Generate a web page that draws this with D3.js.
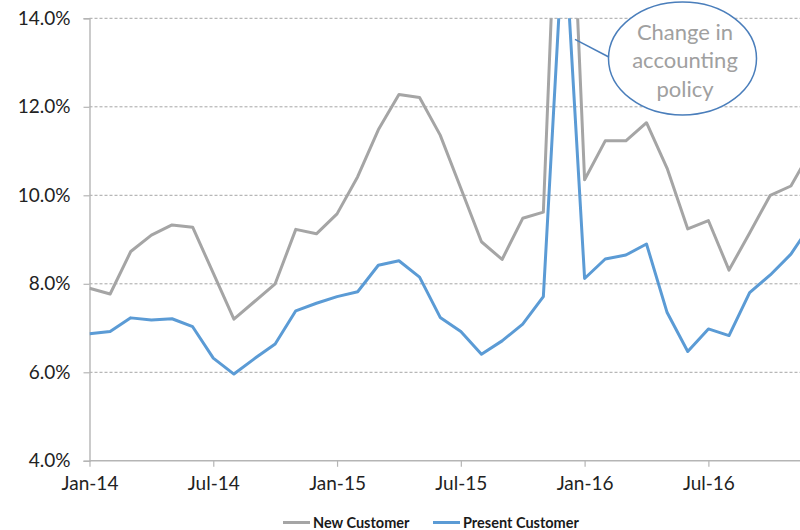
<!DOCTYPE html>
<html>
<head>
<meta charset="utf-8">
<script src="https://cdn.jsdelivr.net/npm/d3@7"></script>
<style>
  html, body { margin: 0; padding: 0; background: #fff; }
  svg { display: block; }
  text { font-family: Lato, "Open Sans", sans-serif; }
</style>
</head>
<body>
<svg id="chart" width="800" height="530"></svg>
<script>
// Monthly categories, Jan-14 .. Dec-16
const months = [
  "Jan-14","Feb-14","Mar-14","Apr-14","May-14","Jun-14","Jul-14","Aug-14","Sep-14","Oct-14","Nov-14","Dec-14",
  "Jan-15","Feb-15","Mar-15","Apr-15","May-15","Jun-15","Jul-15","Aug-15","Sep-15","Oct-15","Nov-15","Dec-15",
  "Jan-16","Feb-16","Mar-16","Apr-16","May-16","Jun-16","Jul-16","Aug-16","Sep-16","Oct-16","Nov-16","Dec-16"
];

// Rates in percent
const newCustomer = [
  7.90, 7.77, 8.73, 9.10, 9.33, 9.28, 8.24, 7.20, 7.60, 8.00, 9.23, 9.13,
  9.58, 10.42, 11.48, 12.28, 12.21, 11.36, 10.16, 8.95, 8.55, 9.48, 9.62, 21.2,
  10.35, 11.23, 11.23, 11.64, 10.61, 9.24, 9.43, 8.31, 9.15, 10.00, 10.21, 11.03
];
const presentCustomer = [
  6.87, 6.92, 7.23, 7.18, 7.21, 7.03, 6.32, 5.96, 6.31, 6.64, 7.39, 7.56,
  7.71, 7.82, 8.42, 8.52, 8.15, 7.24, 6.92, 6.41, 6.71, 7.09, 7.71, 16.14,
  8.12, 8.56, 8.65, 8.90, 7.35, 6.47, 6.98, 6.83, 7.80, 8.20, 8.67, 9.36
];

const yTicks = [4, 6, 8, 10, 12, 14];
const xTickLabels = ["Jan-14", "Jul-14", "Jan-15", "Jul-15", "Jan-16", "Jul-16"];

const seriesNames = ["New Customer", "Present Customer"];
const seriesColors = ["#a5a5a5", "#5b9bd5"];
const noteLines = ["Change in", "accounting", "policy"];

const svg = d3.select("#chart");
const W = 800;
const plotLeft = 89.5, plotTop = 18.3, plotBottom = 460.8;

const x = d3.scaleLinear().domain([0, 34]).range([plotLeft, 790.9]);
const y = d3.scaleLinear().domain([4, 14]).range([plotBottom, plotTop]);

// Horizontal dashed gridlines
svg.append("g").selectAll("line")
  .data(yTicks.filter(v => v > 4))
  .join("line")
  .attr("x1", plotLeft).attr("x2", W)
  .attr("y1", d => y(d)).attr("y2", d => y(d))
  .attr("stroke", "#a6a6a6").attr("stroke-width", 1)
  .attr("stroke-dasharray", "3,2");

// Y axis
const yAxis = d3.axisLeft(y).tickValues(yTicks)
  .tickFormat(d => d.toFixed(1) + "%").tickSize(6).tickPadding(13);
const gy = svg.append("g").attr("transform", `translate(${plotLeft},0)`).call(yAxis);
gy.select(".domain").attr("stroke", "#b5b5b5").attr("stroke-width", 1.4);
gy.selectAll(".tick line").attr("stroke", "#b5b5b5").attr("stroke-width", 1.2);
gy.selectAll(".tick text").attr("fill", "#222").attr("font-size", 19)
  .attr("font-family", "Lato, sans-serif");

// X axis
const xTickIdx = xTickLabels.map(l => months.indexOf(l));
const xAxis = d3.axisBottom(x).tickValues(xTickIdx)
  .tickFormat(i => months[i]).tickSize(6).tickPadding(10).tickSizeOuter(0);
const gx = svg.append("g").attr("transform", `translate(0,${plotBottom})`).call(xAxis);
gx.select(".domain").attr("d", `M${plotLeft},0H${W}`).attr("stroke", "#b5b5b5").attr("stroke-width", 1.4);
gx.selectAll(".tick line").attr("stroke", "#b5b5b5").attr("stroke-width", 1.2);
gx.selectAll(".tick text").attr("fill", "#222").attr("font-size", 19)
  .attr("font-family", "Lato, sans-serif");

// Plot area clip so the spike is cut at the top of the axis
svg.append("clipPath").attr("id", "plot")
  .append("rect").attr("x", plotLeft).attr("y", plotTop)
  .attr("width", W - plotLeft).attr("height", plotBottom - plotTop);

const line = d3.line().x((d, i) => x(i)).y(d => y(d));
const plot = svg.append("g").attr("clip-path", "url(#plot)");
[newCustomer, presentCustomer].forEach((s, k) => {
  plot.append("path").datum(s)
    .attr("d", line)
    .attr("fill", "none")
    .attr("stroke", seriesColors[k])
    .attr("stroke-width", 3)
    .attr("stroke-linejoin", "round");
});

// Callout
const note = svg.append("g");
note.append("line")
  .attr("x1", 575).attr("y1", 39.3).attr("x2", 608.8).attr("y2", 57)
  .attr("stroke", "#4a7ebb").attr("stroke-width", 1.5);
note.append("ellipse")
  .attr("cx", 682.5).attr("cy", 58.5).attr("rx", 74).attr("ry", 56.5)
  .attr("fill", "#fff").attr("stroke", "#4a7ebb").attr("stroke-width", 1.5);
note.selectAll("text").data(noteLines).join("text")
  .attr("x", 685).attr("y", (d, i) => 39.5 + i * 28.7)
  .attr("text-anchor", "middle")
  .attr("font-size", 22)
  .attr("fill", "#a0a0a0")
  .text(d => d);

// Legend
const legendX = [283, 433];
const lg = svg.append("g");
seriesNames.forEach((name, k) => {
  lg.append("line")
    .attr("x1", legendX[k]).attr("x2", legendX[k] + 27)
    .attr("y1", 522.5).attr("y2", 522.5)
    .attr("stroke", seriesColors[k]).attr("stroke-width", 3);
  lg.append("text")
    .attr("x", legendX[k] + 30).attr("y", 528)
    .attr("font-size", 14.5).attr("font-weight", "bold").attr("fill", "#1a1a1a")
    .text(name);
});
</script>
</body>
</html>
